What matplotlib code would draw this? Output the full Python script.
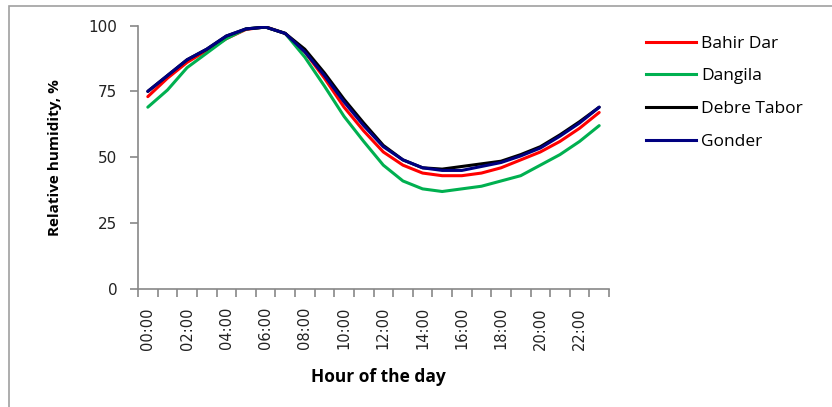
import matplotlib
matplotlib.use("Agg")
import matplotlib.pyplot as plt
from matplotlib.lines import Line2D
import numpy as np

hours = list(range(24))
tick_labels = ["00:00", "02:00", "04:00", "06:00", "08:00", "10:00",
               "12:00", "14:00", "16:00", "18:00", "20:00", "22:00"]

bahir_dar = [73, 80, 86, 90.5, 95, 98.5, 99.5, 97, 90, 80, 69, 60,
             52, 47, 44, 43, 43, 44, 46, 49, 52, 56, 61, 67]
dangila = [69, 75.5, 84, 89.5, 95, 98.7, 99.4, 97, 88, 77, 65.5, 56,
           47, 41, 38, 37, 38, 39, 41, 43, 47, 51, 56, 62]
debre_tabor = [75, 81, 87, 91, 96, 98.7, 99.4, 97, 91, 82, 72, 63,
               54.5, 49, 46, 45.5, 46.5, 47.5, 48.5, 51, 54, 58.5, 63.5, 69]
gonder = [75, 81, 87, 91, 96, 98.7, 99.4, 97, 90, 81, 71, 62,
          54, 49, 46, 45, 45, 46.5, 48, 50.5, 53.5, 58, 63, 69]

series = [("Bahir Dar", bahir_dar, "#ff0000"),
          ("Dangila", dangila, "#00b050"),
          ("Debre Tabor", debre_tabor, "#000000"),
          ("Gonder", gonder, "#000080")]

W, H = 832, 407
fig = plt.figure(figsize=(W / 100, H / 100), dpi=100)
# outer border (right and bottom edges fall outside the image)
fig.patches.append(plt.Rectangle((9 / W, -0.1), 1.2, 1.1 - 5.5 / H, transform=fig.transFigure,
                                 fill=False, edgecolor="#a0a0a0", linewidth=1.2))

left, right, top, bottom = 138, 609, 25.5, 289
ax = fig.add_axes([left / W, 1 - bottom / H, (right - left) / W, (bottom - top) / H])

x = np.array(hours) + 0.5
for name, vals, col in series:
    ax.plot(x, vals, color=col, linewidth=2.2, label=name, solid_capstyle="round")

ax.set_xlim(0, 24)
ax.set_ylim(0, 100)
ax.set_yticks([0, 25, 50, 75, 100])
ax.set_yticklabels(["0", "25", "50", "75", "100"], fontsize=11, family="DejaVu Sans", color="#222222")
ax.set_xticks(np.arange(0, 25, 1))
ax.set_xticklabels([])
ax.set_xticks(np.arange(0, 24, 2) + 0.5, minor=True)
ax.set_xticklabels(tick_labels, minor=True, rotation=90, fontsize=10.5,
                   family="DejaVu Sans", color="#222222")
ax.tick_params(axis="x", which="minor", length=0, pad=13)
ax.tick_params(axis="x", which="major", length=6, color="#888888", width=1.2)
ax.tick_params(axis="y", length=6, color="#888888", width=1.2, pad=9)

for s in ["top", "right"]:
    ax.spines[s].set_visible(False)
for s in ["left", "bottom"]:
    ax.spines[s].set_color("#888888")
    ax.spines[s].set_linewidth(1.2)

ax.set_ylabel("Relative humidity, %", fontsize=11, fontweight="bold", family="Open Sans")
ax.yaxis.set_label_coords((55 - left) / (right - left), 0.5)
ax.set_xlabel("Hour of the day", fontsize=12.5, fontweight="bold", family="Open Sans")
ax.xaxis.set_label_coords((378 - left) / (right - left), -(377 - bottom) / (bottom - top))
ax.xaxis.label.set_va("center")
ax.yaxis.label.set_va("center")

handles = [Line2D([0], [0], color=c, linewidth=2.2) for _, _, c in series]
leg = fig.legend(handles, [n for n, _, _ in series], loc="upper left",
                 bbox_to_anchor=(630 / W, 1 - 20 / H), frameon=False,
                 prop={"family": "Open Sans", "size": 12.5}, handlelength=2.9,
                 handletextpad=0.3, labelspacing=0.95)

fig.savefig("out.png", dpi=100, facecolor="white")
